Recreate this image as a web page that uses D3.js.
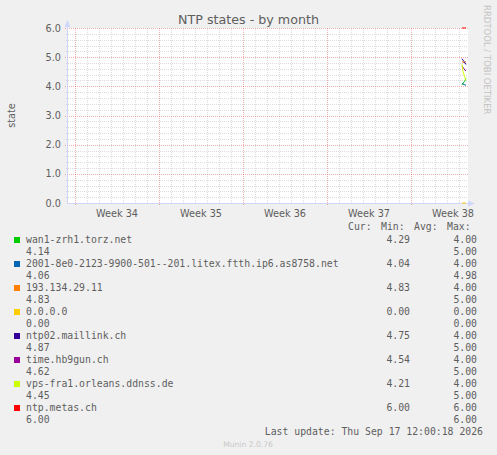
<!DOCTYPE html>
<html>
<head>
<meta charset="utf-8">
<script src="https://cdn.jsdelivr.net/npm/d3@7/dist/d3.min.js"></script>
<style>
html,body{margin:0;padding:0;background:#F0F0F0;}
svg{display:block;}
</style>
</head>
<body>
<svg id="chart" width="497" height="455"></svg>
<script>
// ---- data ----
const seriesNames = [
  "wan1-zrh1.torz.net",
  "2001-8e0-2123-9900-501--201.litex.ftth.ip6.as8758.net",
  "193.134.29.11",
  "0.0.0.0",
  "ntp02.maillink.ch",
  "time.hb9gun.ch",
  "vps-fra1.orleans.ddnss.de",
  "ntp.metas.ch"
];
const seriesColors = ["#00CC00","#0066B3","#FF8000","#FFCC00","#330099","#990099","#CCFF00","#FF0000"];
const curValues = [4.29, 4.04, 4.83, 0.00, 4.75, 4.54, 4.21, 6.00];
const minValues = [4.00, 4.00, 4.00, 0.00, 4.00, 4.00, 4.00, 6.00];
const avgValues = [4.14, 4.06, 4.83, 0.00, 4.87, 4.62, 4.45, 6.00];
const maxValues = [5.00, 4.98, 5.00, 0.00, 5.00, 5.00, 5.00, 6.00];

// sample times (hours on Sep 17 2026) and per-series samples
const sampleHours = [6, 8, 10, 12, 14];
const samples = [
  [4.05, 4.10, 4.15, 4.20, 4.29],
  [4.10, 4.08, 4.06, 4.05, 4.04],
  [4.83, 4.85, 4.80, 4.85, 4.83],
  [0.00, 0.00, 0.00, 0.00, 0.00],
  [4.95, 4.90, 4.85, 4.80, 4.75],
  [4.70, 4.65, 4.60, 4.55, 4.54],
  [4.75, 4.50, 4.40, 4.30, 4.21],
  [6.00, 6.00, 6.00, 6.00, 6.00]
];
const yTickValues = [0, 1, 2, 3, 4, 5, 6];
const titleText = "NTP states - by month";
const yLabelText = "state";
const legendHeader = ["Cur:", "Min:", "Avg:", "Max:"];
const lastUpdateText = "Last update: Thu Sep 17 12:00:18 2026";
const watermark = "RRDTOOL / TOBI OETIKER";
const footer = "Munin 2.0.76";

// ---- layout ----
const svg = d3.select("#chart");
const X0 = 67, X1 = 468, Y0 = 203, Y1 = 28;
const FONT = "'DejaVu Sans', sans-serif";
const MONO = "'DejaVu Sans Mono', monospace";
const TXT = "#5e5e5e";

const tStart = new Date(Date.UTC(2026, 7, 15, 8, 0, 0));
const tEnd = new Date(Date.UTC(2026, 8, 17, 18, 0, 0));
const x = d3.scaleUtc().domain([tStart, tEnd]).range([X0, X1]);
const y = d3.scaleLinear().domain([0, 6]).range([Y0, Y1]);

svg.append("rect").attr("width", 497).attr("height", 455).attr("fill", "#F0F0F0");
svg.append("rect").attr("x", X0).attr("y", Y1).attr("width", X1 - X0).attr("height", Y0 - Y1).attr("fill", "#FFFFFF");

const grid = svg.append("g").attr("shape-rendering", "crispEdges");
// minor horizontal grid every 0.2
const minorY = d3.range(0, 31).map(i => i * 0.2).filter(v => Math.abs(v - Math.round(v)) > 1e-6);
grid.selectAll(".hmin").data(minorY).join("line")
  .attr("x1", X0 - 1).attr("x2", X1)
  .attr("y1", d => Math.round(y(d)) + 0.5).attr("y2", d => Math.round(y(d)) + 0.5)
  .attr("stroke", "rgba(186,186,186,0.5)").attr("stroke-dasharray", "1,1");
// minor vertical grid every day
const days = d3.utcDay.range(tStart, tEnd).filter(d => d.getUTCDay() !== 0);
grid.selectAll(".vmin").data(days).join("line")
  .attr("x1", d => Math.round(x(d)) + 0.5).attr("x2", d => Math.round(x(d)) + 0.5)
  .attr("y1", Y1).attr("y2", Y0 + 1)
  .attr("stroke", "rgba(186,186,186,0.5)").attr("stroke-dasharray", "1,1");
// major horizontal
grid.selectAll(".hmaj").data(yTickValues.filter(v => v > 0)).join("line")
  .attr("x1", X0 - 2).attr("x2", X1)
  .attr("y1", d => Math.round(y(d)) + 0.5).attr("y2", d => Math.round(y(d)) + 0.5)
  .attr("stroke", "rgba(230,110,110,0.55)").attr("stroke-dasharray", "1,1");
// major vertical (weeks, Sunday)
const weeks = d3.utcSunday.range(tStart, tEnd);
grid.selectAll(".vmaj").data(weeks).join("line")
  .attr("x1", d => Math.round(x(d)) + 0.5).attr("x2", d => Math.round(x(d)) + 0.5)
  .attr("y1", Y1).attr("y2", Y0 + 3)
  .attr("stroke", "rgba(230,110,110,0.55)").attr("stroke-dasharray", "1,1");

// y tick labels
svg.append("g").selectAll("text").data(yTickValues).join("text")
  .attr("x", 61).attr("y", d => y(d) + 3.6)
  .attr("text-anchor", "end").attr("font-family", FONT).attr("font-size", 9.7)
  .attr("fill", TXT).text(d => d3.format(".1f")(d));

// x labels: centered in each week
const fmtWeek = d3.utcFormat("%V");
svg.append("g").selectAll("text").data(weeks).join("text")
  .attr("x", d => x(new Date(+d + 3.5 * 864e5)))
  .attr("y", 217)
  .attr("text-anchor", "middle").attr("font-family", FONT).attr("font-size", 9.7)
  .attr("fill", TXT).text(d => "Week " + (+fmtWeek(new Date(+d + 3.5 * 864e5))));

// axes
const AX = "#CFD6F8";
svg.append("line").attr("x1", X0 + 0.5).attr("x2", X0 + 0.5).attr("y1", Y0 + 0.5).attr("y2", 24).attr("stroke", AX);
svg.append("line").attr("x1", X0).attr("x2", 470).attr("y1", Y0 + 0.5).attr("y2", Y0 + 0.5).attr("stroke", AX);
svg.append("path").attr("d", `M${X0 + 0.5},20 L${X0 + 3.5},27 L${X0 - 2.5},27 Z`).attr("fill", AX);
svg.append("path").attr("d", `M475,${Y0 + 0.5} L468,${Y0 - 2.5} L468,${Y0 + 3.5} Z`).attr("fill", AX);

// data lines
const line = d3.line().x(d => x(d.t)).y(d => y(d.v));
samples.forEach((vals, i) => {
  const pts = vals.map((v, k) => ({ t: new Date(Date.UTC(2026, 8, 17, sampleHours[k], 0, 0)), v }));
  svg.append("path").datum(pts).attr("d", line)
    .attr("fill", "none").attr("stroke", seriesColors[i]).attr("stroke-width", 1);
});

// title
svg.append("text").attr("x", 248.5).attr("y", 24).attr("text-anchor", "middle")
  .attr("font-family", FONT).attr("font-size", 12.7).attr("fill", TXT).text(titleText);
// y label
svg.append("text").attr("transform", "translate(15,115.5) rotate(-90)").attr("text-anchor", "middle")
  .attr("font-family", FONT).attr("font-size", 9.7).attr("fill", TXT).text(yLabelText);
// watermark
svg.append("text").attr("transform", "translate(484,5) rotate(90)").attr("text-anchor", "start")
  .attr("font-family", FONT).attr("font-size", 8.5).attr("fill", "#c4c4c4").text(watermark);

// legend
const lg = svg.append("g").attr("font-family", MONO).attr("font-size", 9.8).attr("fill", TXT);
const headerX = [348, 381, 414, 447];
lg.selectAll(".hdr").data(legendHeader).join("text")
  .attr("x", (d, i) => headerX[i]).attr("y", 229.5).text(d => d);
const f2 = d3.format(".2f");
seriesNames.forEach((name, i) => {
  const base = 243 + i * 24;
  lg.append("rect").attr("x", 14).attr("y", base - 6).attr("width", 6).attr("height", 6)
    .attr("fill", seriesColors[i]);
  lg.append("text").attr("x", 26).attr("y", base).text(name);
  lg.append("text").attr("x", 410).attr("y", base).attr("text-anchor", "end").text(f2(curValues[i]));
  lg.append("text").attr("x", 477).attr("y", base).attr("text-anchor", "end").text(f2(minValues[i]));
  lg.append("text").attr("x", 26).attr("y", base + 12).text(f2(avgValues[i]));
  lg.append("text").attr("x", 477).attr("y", base + 12).attr("text-anchor", "end").text(f2(maxValues[i]));
});
lg.append("text").attr("x", 483).attr("y", 435).attr("text-anchor", "end").text(lastUpdateText);
svg.append("text").attr("x", 248).attr("y", 447).attr("text-anchor", "middle")
  .attr("font-family", FONT).attr("font-size", 7.6).attr("fill", "#c8c8c8").text(footer);
</script>
</body>
</html>
